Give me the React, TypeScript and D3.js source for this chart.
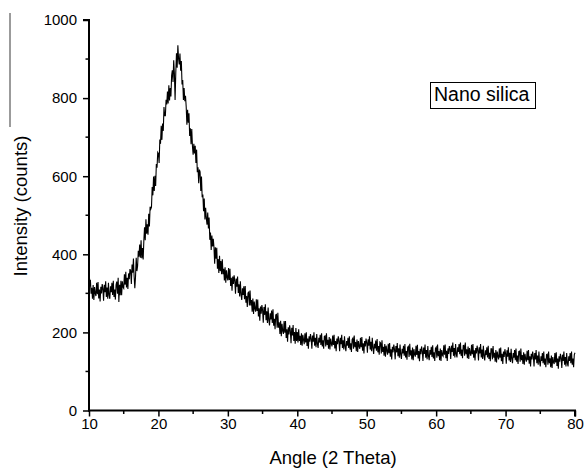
import React, { useEffect, useRef } from 'react';
import * as d3 from 'd3';

// XRD scan: 10 to 80 deg (2 theta), one reading every 0.1 deg, one row per degree
const startAngle = 10;
const stepAngle = 0.1;
const intensityRows: number[][] = [
  [392, 318, 335, 299, 314, 286, 321, 283, 316, 300],
  [293, 327, 298, 329, 287, 310, 279, 317, 300, 324],
  [312, 281, 322, 303, 331, 291, 315, 286, 327, 295],
  [286, 318, 303, 327, 296, 332, 291, 310, 284, 322],
  [330, 299, 340, 278, 322, 295, 332, 295, 331, 316],
  [313, 349, 322, 355, 315, 340, 311, 351, 336, 362],
  [358, 324, 374, 353, 389, 343, 313, 342, 391, 357],
  [370, 409, 394, 425, 391, 436, 390, 416, 387, 435],
  [469, 436, 490, 453, 477, 450, 504, 471, 522, 516],
  [521, 572, 551, 599, 562, 601, 575, 631, 622, 661],
  [658, 634, 694, 683, 729, 693, 735, 716, 777, 755],
  [755, 796, 784, 817, 786, 833, 794, 826, 804, 858],
  [871, 841, 897, 863, 795, 865, 915, 878, 935, 901],
  [886, 914, 870, 895, 835, 846, 795, 826, 792, 806],
  [778, 732, 770, 737, 761, 703, 723, 682, 721, 677],
  [655, 683, 658, 678, 634, 668, 610, 623, 582, 617],
  [611, 562, 599, 546, 553, 510, 543, 489, 519, 492],
  [476, 507, 466, 494, 437, 456, 411, 448, 420, 440],
  [418, 376, 418, 389, 417, 363, 388, 352, 396, 357],
  [383, 349, 387, 349, 363, 333, 367, 327, 359, 341],
  [333, 365, 334, 363, 319, 340, 307, 343, 324, 346],
  [332, 299, 338, 317, 343, 301, 323, 292, 331, 297],
  [283, 313, 296, 318, 285, 319, 276, 293, 265, 301],
  [303, 269, 307, 269, 283, 253, 287, 247, 279, 261],
  [253, 285, 255, 284, 241, 262, 230, 266, 248, 270],
  [257, 225, 265, 245, 272, 231, 254, 224, 264, 231],
  [218, 249, 233, 256, 224, 259, 217, 235, 208, 245],
  [246, 212, 250, 212, 226, 196, 230, 190, 222, 204],
  [196, 229, 199, 229, 186, 208, 176, 213, 195, 218],
  [204, 172, 212, 192, 219, 178, 201, 171, 211, 178],
  [201, 174, 208, 178, 191, 168, 198, 166, 194, 181],
  [170, 198, 174, 200, 165, 184, 158, 190, 176, 196],
  [184, 158, 192, 176, 200, 166, 186, 162, 196, 170],
  [160, 186, 174, 194, 168, 198, 164, 180, 158, 190],
  [191, 164, 198, 168, 181, 158, 188, 156, 184, 171],
  [164, 192, 168, 194, 159, 178, 152, 184, 170, 190],
  [178, 152, 186, 170, 194, 160, 180, 156, 190, 164],
  [152, 178, 166, 186, 160, 190, 156, 172, 150, 182],
  [185, 158, 192, 162, 175, 152, 182, 150, 178, 165],
  [158, 186, 162, 188, 153, 172, 146, 178, 164, 184],
  [174, 148, 182, 166, 190, 156, 176, 152, 186, 160],
  [145, 171, 159, 179, 153, 183, 149, 165, 143, 175],
  [173, 146, 180, 150, 163, 140, 170, 138, 166, 153],
  [143, 171, 147, 173, 138, 157, 131, 163, 149, 169],
  [157, 131, 165, 149, 173, 139, 159, 135, 169, 143],
  [132, 158, 146, 166, 140, 170, 136, 152, 130, 162],
  [164, 137, 171, 141, 154, 131, 161, 129, 157, 144],
  [138, 166, 142, 168, 133, 152, 126, 158, 144, 164],
  [153, 127, 161, 145, 169, 135, 155, 131, 165, 139],
  [129, 155, 143, 163, 137, 167, 133, 149, 127, 159],
  [162, 135, 169, 139, 152, 129, 159, 127, 155, 142],
  [139, 167, 143, 169, 134, 153, 127, 159, 145, 165],
  [158, 132, 166, 150, 174, 140, 160, 136, 170, 144],
  [136, 162, 150, 170, 144, 174, 140, 156, 134, 166],
  [167, 140, 174, 144, 157, 134, 164, 132, 160, 147],
  [140, 168, 144, 170, 135, 154, 128, 160, 146, 166],
  [154, 128, 162, 146, 170, 136, 156, 132, 166, 140],
  [128, 154, 142, 162, 136, 166, 132, 148, 126, 158],
  [158, 131, 165, 135, 148, 125, 155, 123, 151, 138],
  [131, 159, 135, 161, 126, 145, 119, 151, 137, 157],
  [146, 120, 154, 138, 162, 128, 148, 124, 158, 132],
  [121, 147, 135, 155, 129, 159, 125, 141, 119, 151],
  [152, 125, 159, 129, 142, 119, 149, 117, 145, 132],
  [125, 153, 129, 155, 120, 139, 113, 145, 131, 151],
  [139, 113, 147, 131, 155, 121, 141, 117, 151, 125],
  [113, 139, 127, 147, 121, 151, 117, 133, 111, 143],
  [144, 117, 151, 121, 134, 111, 141, 109, 137, 124],
  [119, 147, 123, 149, 114, 133, 107, 139, 125, 145],
  [135, 109, 143, 127, 151, 117, 137, 113, 147, 121],
  [113, 139, 127, 147, 121, 151, 117, 133, 111, 143],
  [148],
];

const xTicks = [10, 20, 30, 40, 50, 60, 70, 80];
const xMinorTicks = [15, 25, 35, 45, 55, 65, 75];
const yTicks = [0, 200, 400, 600, 800, 1000];
const yMinorTicks = [100, 300, 500, 700, 900];
const seriesLabel = 'Nano silica';

const XrdChart = () => {
  const ref = useRef<SVGSVGElement | null>(null);

  useEffect(() => {
    if (!ref.current) return;
    const svg = d3.select(ref.current);
    svg.selectAll('*').remove();

    const font = 'Liberation Sans, Arial, sans-serif';
    const x = d3.scaleLinear().domain([10, 80]).range([89, 575]);
    const y = d3.scaleLinear().domain([0, 1000]).range([410.5, 20]);

    const data = intensityRows.flat().map((v, i) => ({
      angle: startAngle + i * stepAngle,
      value: v,
    }));

    // stray grey rule at the far left
    svg.append('line')
      .attr('x1', 10).attr('x2', 10)
      .attr('y1', 13).attr('y2', 127)
      .attr('stroke', '#7a7a7a')
      .attr('stroke-width', 1.5);

    // curve
    const line = d3.line<{ angle: number; value: number }>()
      .x(d => x(d.angle))
      .y(d => y(d.value));

    svg.append('path')
      .datum(data)
      .attr('d', line)
      .attr('fill', 'none')
      .attr('stroke', '#000')
      .attr('stroke-width', 1.1);

    // bottom axis
    const gx = svg.append('g')
      .attr('transform', `translate(0,${y(0)})`)
      .style('font-family', font)
      .style('font-size', '15px');
    gx.call(d3.axisBottom(x).tickValues(xTicks).tickSize(6).tickPadding(2).tickFormat(d3.format('d')));
    gx.append('g').selectAll('line')
      .data(xMinorTicks)
      .enter()
      .append('line')
      .attr('x1', d => x(d)).attr('x2', d => x(d))
      .attr('y1', 0).attr('y2', 3.5)
      .attr('stroke', '#000')
      .attr('stroke-width', 1.5);

    // left axis
    const gy = svg.append('g')
      .attr('transform', `translate(${x(10)},0)`)
      .style('font-family', font)
      .style('font-size', '15px');
    gy.call(d3.axisLeft(y).tickValues(yTicks).tickSize(6).tickPadding(6).tickFormat(d3.format('d')));
    gy.append('g').selectAll('line')
      .data(yMinorTicks)
      .enter()
      .append('line')
      .attr('x1', 0).attr('x2', -3.5)
      .attr('y1', d => y(d)).attr('y2', d => y(d))
      .attr('stroke', '#000')
      .attr('stroke-width', 1.5);

    [gx, gy].forEach(g => {
      g.select('.domain').attr('stroke-width', 2).attr('stroke', '#000');
      g.selectAll('.tick line').attr('stroke-width', 1.5);
      g.selectAll('.tick text').attr('fill', '#000');
    });
    gx.select('.domain').attr('d', `M${x(10) - 1},0H${x(80)}V6`);
    gy.select('.domain').attr('d', `M-6,${y(1000)}H0V${y(0) + 1}`);

    // axis titles
    svg.append('text')
      .attr('x', 333).attr('y', 464)
      .attr('text-anchor', 'middle')
      .style('font-family', font)
      .style('font-size', '18.5px')
      .text('Angle (2 Theta)');

    svg.append('text')
      .attr('transform', 'translate(27,206) rotate(-90)')
      .attr('text-anchor', 'middle')
      .style('font-family', font)
      .style('font-size', '18.5px')
      .text('Intensity (counts)');

    // label box
    svg.append('rect')
      .attr('x', 430.5).attr('y', 82.5)
      .attr('width', 105).attr('height', 26)
      .attr('fill', '#fff')
      .attr('stroke', '#000')
      .attr('stroke-width', 1);
    svg.append('text')
      .attr('x', 434).attr('y', 101)
      .style('font-family', font)
      .style('font-size', '19.5px')
      .text(seriesLabel);
  }, []);

  return (
    <svg
      ref={ref}
      width={585}
      height={472}
      style={{ position: 'absolute', left: 0, top: 0, background: '#fff' }}
    />
  );
};

export default function App() {
  return <XrdChart />;
}
